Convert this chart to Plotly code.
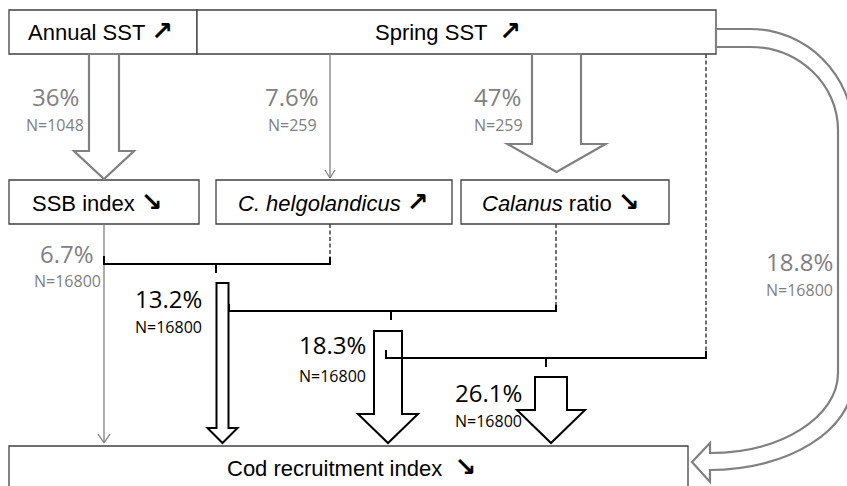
import plotly.graph_objects as go

# ---------------- data ----------------
UP = '<span style="font-size:26px;font-weight:bold">↗</span>'
DOWN = '<span style="font-size:26px;font-weight:bold">↘</span>'
box_labels = ["Annual SST " + UP, "Spring SST  " + UP, "SSB index " + DOWN,
              "<i>C. helgolandicus</i> " + UP, "<i>Calanus</i> ratio " + DOWN,
              "Cod recruitment index  " + DOWN]
effect_pct = [36, 7.6, 47, 6.7, 13.2, 18.3, 26.1, 18.8]
effect_n = [1048, 259, 259, 16800, 16800, 16800, 16800, 16800]
effect_color = ["#808080", "#808080", "#808080", "#808080", "#000000", "#000000", "#000000", "#808080"]

# ---------------- layout geometry (pixel coordinates) ----------------
W, H = 847, 486
GRAY = "#808080"
BOXC = "#404040"
BLACK = "#000000"

boxes = [(9, 197, 10, 54), (197, 716, 10, 54), (9, 199, 180, 224),
         (216, 452, 180, 224), (461, 669, 180, 224), (9, 688, 446, 520)]
box_text_pos = [(100, 31), (448, 31), (97, 202), (333, 202), (561, 202), (351, 467)]
pct_pos = [(55, 96), (292, 96), (497, 96), (67, 253), (168, 298), (332, 344), (488, 392), (799, 261)]
n_pos = [(55, 125), (292, 125), (498, 125), (67, 281), (168, 327), (332, 376), (488, 421), (799, 290)]

shapes = []


def line(x0, y0, x1, y1, color, width, dash="solid"):
    shapes.append(dict(type="line", xref="x", yref="y", x0=x0, y0=y0, x1=x1, y1=y1,
                       line=dict(color=color, width=width, dash=dash), layer="above"))


def path(d, color, width, fill="white"):
    shapes.append(dict(type="path", xref="x", yref="y", path=d, fillcolor=fill,
                       line=dict(color=color, width=width), layer="above"))


def block_arrow(cx, sw, hw, y_top, y_head, y_tip, color, width):
    d = (f"M {cx - sw / 2},{y_top} V {y_head} H {cx - hw / 2} L {cx},{y_tip} "
         f"L {cx + hw / 2},{y_head} H {cx + sw / 2} V {y_top} Z")
    path(d, color, width)


# boxes
for (x0, x1, y0, y1) in boxes:
    shapes.append(dict(type="rect", xref="x", yref="y", x0=x0, x1=x1, y0=y0, y1=y1,
                       line=dict(color=BOXC, width=1.3), fillcolor="white", layer="above"))

# gray arrows from SST
block_arrow(104, 30, 60, 54, 151, 179, GRAY, 2.2)
block_arrow(556.5, 49, 98, 54, 144, 172, GRAY, 2.2)
line(330, 54, 330, 178, GRAY, 1.3)
line(325, 170, 330, 178, GRAY, 1.3)
line(335, 170, 330, 178, GRAY, 1.3)

# SSB thin arrow to cod
line(104, 224, 104, 443, GRAY, 1.3)
line(98, 434, 104, 443, GRAY, 1.3)
line(110, 434, 104, 443, GRAY, 1.3)

# black block arrows
block_arrow(222.5, 12, 30, 283, 428, 443, BLACK, 2)
block_arrow(388, 28, 60, 331, 414, 443, BLACK, 2)
block_arrow(551, 32, 68, 377, 410, 443, BLACK, 2)

# dashed connectors
DASH = "4px,2.5px"
line(330, 224, 330, 257, BOXC, 1.5, DASH)
line(556, 224, 556, 305, BOXC, 1.5, DASH)
line(706, 54, 706, 351, BOXC, 1.5, DASH)


# brackets
def bracket(xl, xr, y, xm, hook_top, right_top):
    path(f"M {xl},{hook_top} V {y} H {xr} V {right_top}", BLACK, 2, fill="rgba(0,0,0,0)")
    line(xm, y, xm, y + 9, BLACK, 2)


bracket(104, 330, 264, 216, 256, 257)
bracket(229, 556, 311, 391, 304, 305)
bracket(386, 706, 358, 546, 350, 351)

# curved gray arrow Spring SST -> Cod recruitment
k = 0.5523
d = (f"M 716,29 H 750 C {750 + k * 103},29 853,{132 - k * 103} 853,132 V 380 "
     f"C 853,{380 + k * 90} {710 + k * 143},470 710,470 V 482 L 692,462 L 710,443 V 453 "
     f"C {710 + k * 128},453 838,{373 + k * 80} 838,373 "
     f"V 130 C 838,{130 - k * 83} {750 + k * 88},47 750,47 H 716 Z")
path(d, GRAY, 2.2)

# ---------------- annotations ----------------
annotations = []
for lab, (x, y) in zip(box_labels, box_text_pos):
    annotations.append(dict(x=x, y=y, xref="x", yref="y", text=lab, showarrow=False,
                            font=dict(family="Liberation Sans, Arial, DejaVu Sans", size=22, color="#000000"),
                            xanchor="center", yanchor="middle"))
for v, n, c, (px, py), (nx, ny) in zip(effect_pct, effect_n, effect_color, pct_pos, n_pos):
    annotations.append(dict(x=px, y=py, xref="x", yref="y", text=f"{v:g}%", showarrow=False,
                            font=dict(family="Open Sans", size=24, color=c),
                            xanchor="center", yanchor="middle"))
    annotations.append(dict(x=nx, y=ny, xref="x", yref="y", text=f"N={n}", showarrow=False,
                            font=dict(family="Open Sans", size=16, color=c),
                            xanchor="center", yanchor="middle"))

fig = go.Figure(go.Scatter(x=[0, W], y=[0, H], mode="markers", marker=dict(opacity=0),
                           hoverinfo="skip", showlegend=False))
fig.update_layout(width=W, height=H, margin=dict(l=0, r=0, t=0, b=0),
                  paper_bgcolor="white", plot_bgcolor="white",
                  xaxis=dict(range=[0, W], visible=False, fixedrange=True),
                  yaxis=dict(range=[H, 0], visible=False, fixedrange=True),
                  shapes=shapes, annotations=annotations, showlegend=False)
fig.write_html("out.html", config=dict(displayModeBar=False),
               post_script="document.body.style.margin='0';document.body.style.overflow='hidden';")
